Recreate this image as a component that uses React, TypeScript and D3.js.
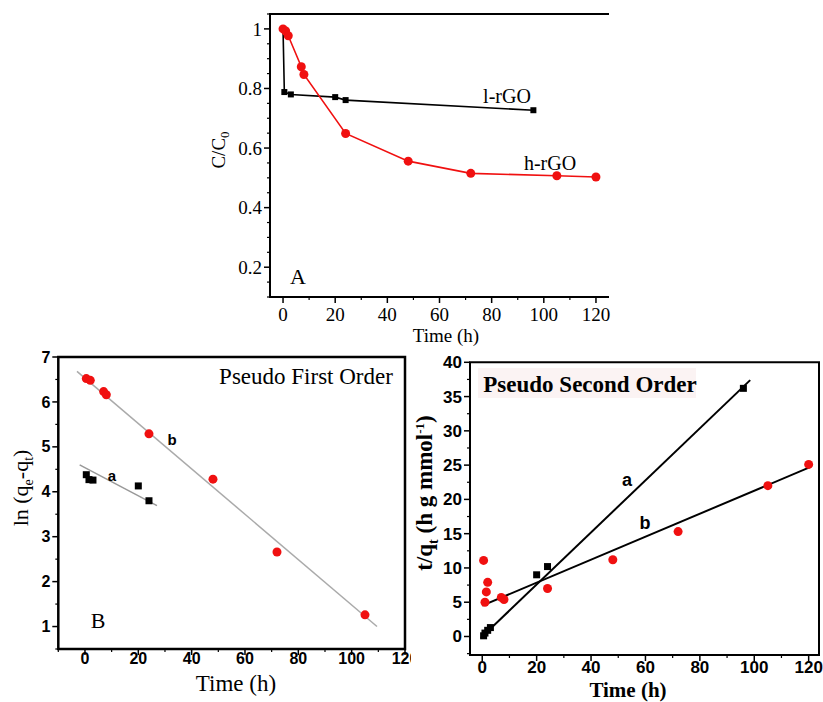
import React from 'react';
import * as d3 from 'd3';

// Panel A data
const aTicksX = [0, 20, 40, 60, 80, 100, 120];
const aTicksY = [0.2, 0.4, 0.6, 0.8, 1];
const lrgoT = [0, 0.5, 3, 20, 24, 96];
const lrgoV = [1.0, 0.788, 0.78, 0.771, 0.761, 0.727];
const hrgoT = [0, 1, 2, 7, 8, 24, 48, 72, 105, 120];
const hrgoV = [1.0, 0.993, 0.977, 0.873, 0.847, 0.649, 0.556, 0.515, 0.507, 0.503];

// Panel B data (pseudo first order)
const bTicksX = [0, 20, 40, 60, 80, 100, 120];
const bTicksY = [1, 2, 3, 4, 5, 6, 7];
const pfoRedT = [0.5, 2, 7, 8, 24, 48, 72, 105];
const pfoRedV = [6.52, 6.48, 6.23, 6.16, 5.29, 4.28, 2.66, 1.26];
const pfoBlackT = [0.5, 1.5, 3, 20, 24];
const pfoBlackV = [4.38, 4.27, 4.26, 4.13, 3.8];
const pfoRedFitT = [-3, 109.5];
const pfoRedFitV = [6.68, 1.0];
const pfoBlackFitT = [-2, 27];
const pfoBlackFitV = [4.6, 3.69];

// Panel C data (pseudo second order)
const cTicksX = [0, 20, 40, 60, 80, 100, 120];
const cTicksY = [0, 5, 10, 15, 20, 25, 30, 35, 40];
const psoBlackT = [0.5, 1, 2, 3, 20, 24, 96];
const psoBlackV = [0.1, 0.5, 0.9, 1.3, 9.0, 10.2, 36.2];
const psoRedT = [0.5, 1, 1.5, 2, 7, 8, 24, 48, 72, 105, 120];
const psoRedV = [11.1, 5.0, 6.5, 7.9, 5.7, 5.4, 7.0, 11.2, 15.3, 22.0, 25.1];
const psoAFitT = [-0.5, 98.5];
const psoAFitV = [-0.2, 37.4];
const psoBFitT = [0, 120.5];
const psoBFitV = [4.5, 24.7];

const SERIF = "'Liberation Serif', 'Times New Roman', serif";
const SANS = "'Liberation Sans', Arial, sans-serif";

function range(a: number, b: number, step: number) {
  const out: number[] = [];
  for (let v = a; v <= b + 1e-9; v += step) out.push(+v.toFixed(6));
  return out;
}

type AxisProps = {
  x: d3.ScaleLinear<number, number>;
  y: d3.ScaleLinear<number, number>;
  xMajor: number[];
  yMajor: number[];
  xMinor: number[];
  yMinor: number[];
  font: string;
  weight: string | number;
  size: number;
  xOff: number;
  yFmt: (v: number) => string;
  sw: number;
  right: boolean;
};

function Axes(p: AxisProps) {
  const [x0, x1] = p.x.range();
  const [y0, y1] = p.y.range();
  const L = 6, l = 3;
  return (
    <g>
      {p.xMinor.map((v, i) => (
        <line key={'xm' + i} x1={p.x(v)} x2={p.x(v)} y1={y0} y2={y0 + l} stroke="#000" strokeWidth={1.2} />
      ))}
      {p.xMajor.map((v, i) => (
        <g key={'xM' + i}>
          <line x1={p.x(v)} x2={p.x(v)} y1={y0} y2={y0 + L} stroke="#000" strokeWidth={1.5} />
          <text x={p.x(v)} y={y0 + p.xOff} textAnchor="middle" fontFamily={p.font} fontWeight={p.weight} fontSize={p.size}>{v}</text>
        </g>
      ))}
      {p.yMinor.map((v, i) => (
        <line key={'ym' + i} x1={x0} x2={x0 - l} y1={p.y(v)} y2={p.y(v)} stroke="#000" strokeWidth={1.2} />
      ))}
      {p.yMajor.map((v, i) => (
        <g key={'yM' + i}>
          <line x1={x0} x2={x0 - L} y1={p.y(v)} y2={p.y(v)} stroke="#000" strokeWidth={1.5} />
          <text x={x0 - L - 2} y={p.y(v)} dy="0.35em" textAnchor="end" fontFamily={p.font} fontWeight={p.weight} fontSize={p.size}>{p.yFmt(v)}</text>
        </g>
      ))}
      <path
        d={p.right
          ? `M${x0},${y1}H${x1}V${y0}H${x0}Z`
          : `M${x1},${y1}H${x0}V${y0}H${x1}`}
        fill="none" stroke="#000" strokeWidth={p.sw} />
    </g>
  );
}

function Squares({ xs, ys, x, y, s, color }: any) {
  return (
    <g>
      {xs.map((t: number, i: number) => (
        <rect key={i} x={x(t) - s / 2} y={y(ys[i]) - s / 2} width={s} height={s} fill={color} />
      ))}
    </g>
  );
}

function Circles({ xs, ys, x, y, r, color }: any) {
  return (
    <g>
      {xs.map((t: number, i: number) => (
        <circle key={i} cx={x(t)} cy={y(ys[i])} r={r} fill={color} />
      ))}
    </g>
  );
}

function PanelA() {
  const x = d3.scaleLinear().domain([-5, 125]).range([270, 609]);
  const y = d3.scaleLinear().domain([0.1, 1.05]).range([297, 14]);
  const mk = (ts: number[], vs: number[]) =>
    d3.line<number>().x((t) => x(t)).y((t, i) => y(vs[i]))(ts) || '';
  return (
    <g>
      <Axes x={x} y={y} xMajor={aTicksX} yMajor={aTicksY}
        xMinor={range(0, 120, 10).filter((v) => v % 20 !== 0)}
        yMinor={range(0.1, 1.05, 0.05).filter((v) => Math.abs(v * 5 - Math.round(v * 5)) > 1e-6)}
        font={SERIF} weight="normal" size={19} xOff={24} yFmt={(v) => (v === 1 ? '1' : String(v))} sw={2} right={false} />
      <path d={mk(lrgoT, lrgoV)} fill="none" stroke="#000" strokeWidth={1.6} />
      <Squares xs={lrgoT.slice(1)} ys={lrgoV.slice(1)} x={x} y={y} s={6} color="#000" />
      <path d={mk(hrgoT, hrgoV)} fill="none" stroke="#f01010" strokeWidth={1.6} />
      <Circles xs={hrgoT} ys={hrgoV} x={x} y={y} r={4.5} color="#f01010" />
      <text x={507} y={103} textAnchor="middle" fontFamily={SERIF} fontSize={20}>l-rGO</text>
      <text x={550} y={170} textAnchor="middle" fontFamily={SERIF} fontSize={20}>h-rGO</text>
      <text x={298} y={284} textAnchor="middle" fontFamily={SERIF} fontSize={22}>A</text>
      <text x={446} y={342} textAnchor="middle" fontFamily={SERIF} fontSize={19}>Time (h)</text>
      <text transform="translate(225,150) rotate(-90)" textAnchor="middle" fontFamily={SERIF} fontSize={19}>
        C/C<tspan dy="4" fontSize={13}>0</tspan>
      </text>
    </g>
  );
}

function PanelB() {
  const x = d3.scaleLinear().domain([-10, 120]).range([58.3, 405]);
  const y = d3.scaleLinear().domain([0.5, 7]).range([649, 357]);
  const mk = (ts: number[], vs: number[]) =>
    d3.line<number>().x((t) => x(t)).y((t, i) => y(vs[i]))(ts) || '';
  return (
    <g clipPath="url(#clipB)">
      <Axes x={x} y={y} xMajor={bTicksX} yMajor={bTicksY}
        xMinor={range(-10, 110, 20)}
        yMinor={range(0.5, 6.5, 1)}
        font={SANS} weight="bold" size={16} xOff={15} yFmt={(v) => String(v)} sw={2.5} right={true} />
      <path d={mk(pfoRedFitT, pfoRedFitV)} fill="none" stroke="#aaaaaa" strokeWidth={1.5} />
      <path d={mk(pfoBlackFitT, pfoBlackFitV)} fill="none" stroke="#999999" strokeWidth={1.5} />
      <Circles xs={pfoRedT} ys={pfoRedV} x={x} y={y} r={4.5} color="#f01010" />
      <Squares xs={pfoBlackT} ys={pfoBlackV} x={x} y={y} s={7} color="#000" />
      <text x={306} y={384} textAnchor="middle" fontFamily={SERIF} fontSize={23}>Pseudo First Order</text>
      <text x={172} y={445} textAnchor="middle" fontFamily={SANS} fontWeight="bold" fontSize={15}>b</text>
      <text x={112} y={481} textAnchor="middle" fontFamily={SANS} fontWeight="bold" fontSize={15}>a</text>
      <text x={98} y={628} textAnchor="middle" fontFamily={SERIF} fontSize={22}>B</text>
      <text x={236} y={691} textAnchor="middle" fontFamily={SERIF} fontSize={23}>Time (h)</text>
      <text transform="translate(28,488) rotate(-90)" textAnchor="middle" fontFamily={SERIF} fontSize={22}>
        ln (q<tspan dy="5" fontSize={14}>e</tspan><tspan dy="-5">-q</tspan><tspan dy="5" fontSize={14}>t</tspan><tspan dy="-5">)</tspan>
      </text>
    </g>
  );
}

function PanelC() {
  const x = d3.scaleLinear().domain([-4.5, 123.8]).range([470, 819]);
  const y = d3.scaleLinear().domain([-2.7, 40]).range([655, 362.3]);
  const mk = (ts: number[], vs: number[]) =>
    d3.line<number>().x((t) => x(t)).y((t, i) => y(vs[i]))(ts) || '';
  return (
    <g>
      <rect x={478} y={368} width={218} height={30} fill="#fbf3f3" />
      <Axes x={x} y={y} xMajor={cTicksX} yMajor={cTicksY}
        xMinor={range(10, 110, 20)}
        yMinor={range(-2.5, 37.5, 5)}
        font={SANS} weight="bold" size={17} xOff={18} yFmt={(v) => String(v)} sw={2} right={true} />
      <path d={mk(psoAFitT, psoAFitV)} fill="none" stroke="#000" strokeWidth={2} />
      <path d={mk(psoBFitT, psoBFitV)} fill="none" stroke="#000" strokeWidth={2} />
      <Circles xs={psoRedT} ys={psoRedV} x={x} y={y} r={4.5} color="#f01010" />
      <Squares xs={psoBlackT} ys={psoBlackV} x={x} y={y} s={7} color="#000" />
      <text x={590} y={392} textAnchor="middle" fontFamily={SERIF} fontWeight="bold" fontSize={23}>Pseudo Second Order</text>
      <text x={627} y={486} textAnchor="middle" fontFamily={SANS} fontWeight="bold" fontSize={18}>a</text>
      <text x={645} y={529} textAnchor="middle" fontFamily={SANS} fontWeight="bold" fontSize={18}>b</text>
      <text x={628} y={697} textAnchor="middle" fontFamily={SERIF} fontWeight="bold" fontSize={21}>Time (h)</text>
      <text transform="translate(432,493) rotate(-90)" textAnchor="middle" fontFamily={SERIF} fontWeight="bold" fontSize={23}>
        t/q<tspan dy="6" fontSize={14}>t</tspan><tspan dy="-6"> (h g mmol</tspan><tspan dy="-8" fontSize={13}>-1</tspan><tspan dy="8">)</tspan>
      </text>
    </g>
  );
}

export default function App() {
  return (
    <svg width={823} height={702} style={{ position: 'absolute', left: 0, top: 0, background: '#fff' }}>
      <defs>
        <clipPath id="clipB">
          <rect x={0} y={330} width={411} height={372} />
        </clipPath>
      </defs>
      <rect width={823} height={702} fill="#fff" />
      <PanelA />
      <PanelB />
      <PanelC />
    </svg>
  );
}
